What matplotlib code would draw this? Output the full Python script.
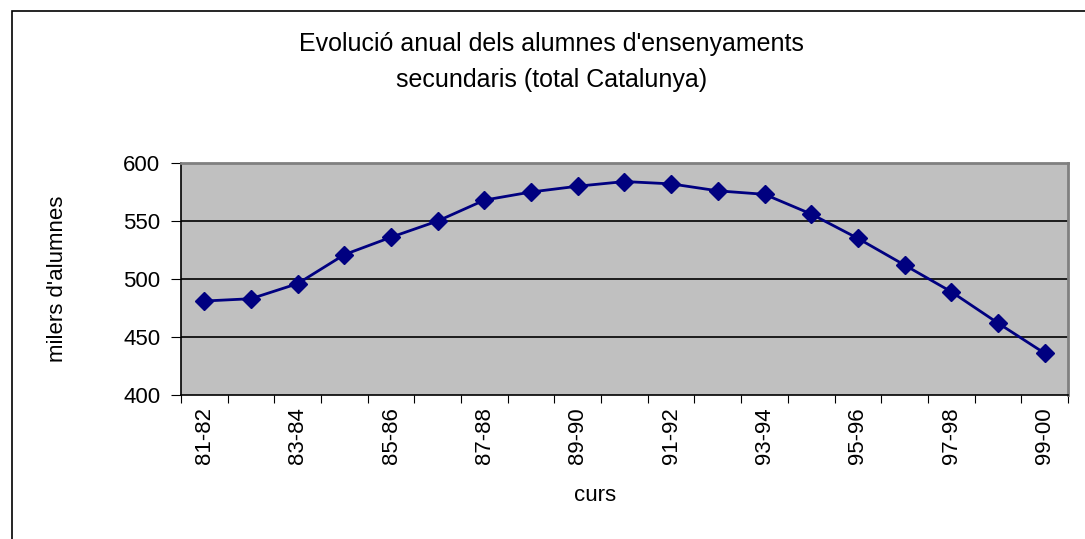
import numpy as np
import matplotlib.pyplot as plt
from matplotlib.patches import Rectangle

plt.rcParams['font.family'] = ['Liberation Sans', 'DejaVu Sans']

cursos = ['81-82', '82-83', '83-84', '84-85', '85-86', '86-87', '87-88',
          '88-89', '89-90', '90-91', '91-92', '92-93', '93-94', '94-95',
          '95-96', '96-97', '97-98', '98-99', '99-00']
alumnes = [481, 483, 496, 521, 536, 550, 568, 575, 580, 584, 582, 576,
           573, 556, 535, 512, 489, 462, 436]
yticks = [400, 450, 500, 550, 600]

fig = plt.figure(figsize=(10.85, 5.39), dpi=100)
ax = fig.add_axes([0.1668, 0.2672, 0.8175, 0.4304])

# outer chart frame (cut by the picture edge on right and bottom)
fig.patches.append(Rectangle((12/1085, -0.2), 1.2, 1 - 11/539 + 0.2,
                             transform=fig.transFigure, fill=False,
                             edgecolor='black', linewidth=1.2))

ax.set_facecolor('#C0C0C0')
x = np.arange(len(cursos))
ax.plot(x, alumnes, color='#000080', linewidth=2, marker='D',
        markersize=9, markerfacecolor='#000080', markeredgecolor='#000080',
        zorder=3)

ax.set_xlim(-0.5, len(cursos) - 0.5)
ax.set_ylim(400, 600)
ax.set_yticks(yticks)
ax.set_yticklabels([str(v) for v in yticks], fontsize=16)
for v in yticks[1:-1]:
    ax.axhline(v, color='black', linewidth=1.2, zorder=1)

ax.set_xticks(np.arange(-0.5, len(cursos), 1))
ax.set_xticklabels([])
ax.set_xticks(x[::2], minor=True)
ax.set_xticklabels(cursos[::2], minor=True, rotation=90, fontsize=16)
ax.tick_params(axis='x', which='major', direction='out', length=6, color='black')
ax.tick_params(axis='x', which='minor', length=0, pad=9)
ax.tick_params(axis='y', direction='out', length=7, pad=8)

for s in ['top', 'right']:
    ax.spines[s].set_color('#808080')
    ax.spines[s].set_linewidth(2)
for s in ['left', 'bottom']:
    ax.spines[s].set_color('black')
    ax.spines[s].set_linewidth(1.2)

ax.set_ylabel("milers d'alumnes", fontsize=16)
ax.yaxis.set_label_coords(-0.127, 0.5)
ax.set_xlabel('curs', fontsize=16)
ax.xaxis.set_label_coords(0.467, -0.39)

fig.text(0.508, 0.885, "Evolució anual dels alumnes d'ensenyaments\nsecundaris (total Catalunya)",
         ha='center', va='center', fontsize=18, linespacing=1.6)

fig.savefig('out.png', dpi=100)
